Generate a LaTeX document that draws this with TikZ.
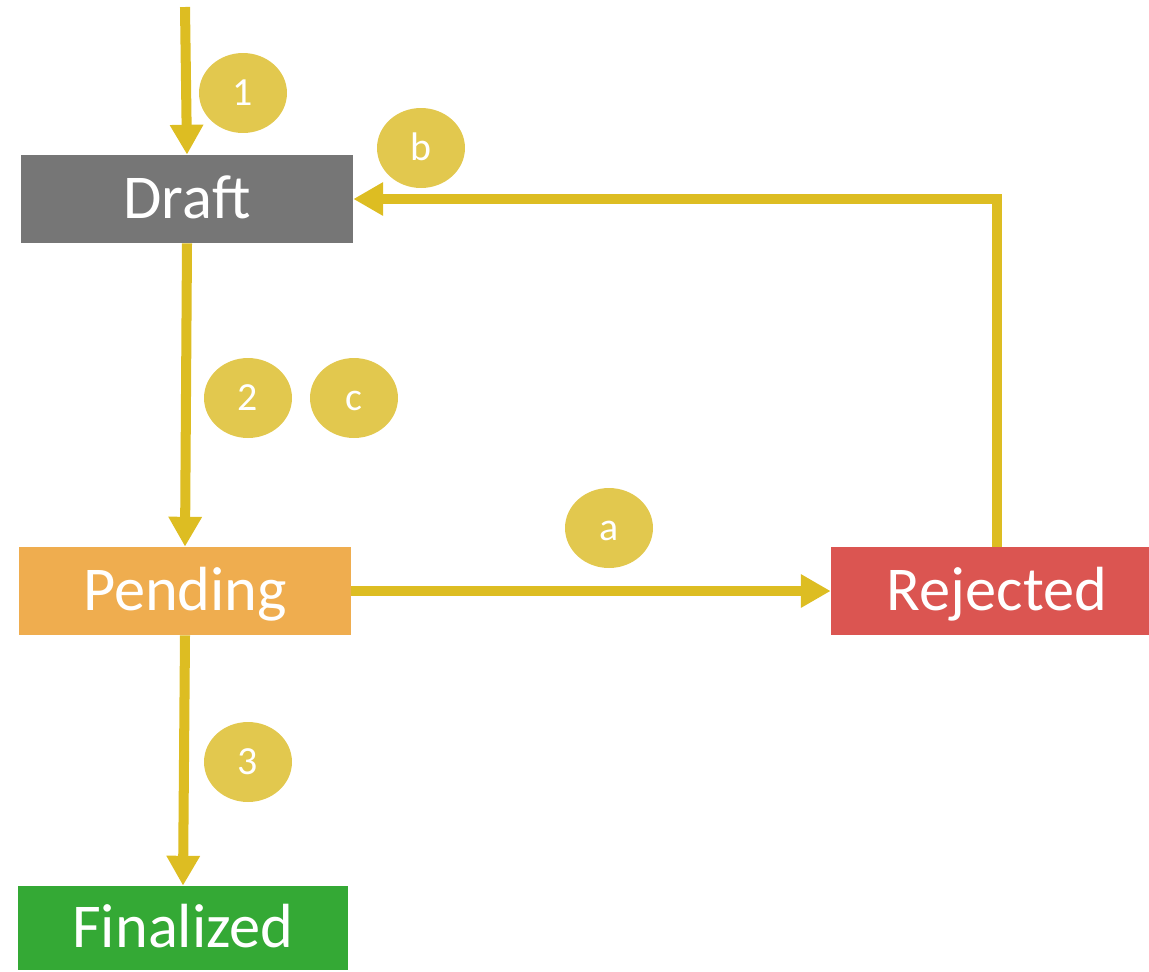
\documentclass[tikz,border=0pt]{standalone}
\usepackage{fontspec}
\setmainfont{Carlito}
\usetikzlibrary{arrows.meta,shapes.geometric}
\definecolor{flowline}{RGB}{221,189,34}
\definecolor{tagfill}{RGB}{226,200,78}
\definecolor{draftgray}{RGB}{118,118,118}
\definecolor{pendingorange}{RGB}{239,173,79}
\definecolor{rejectedred}{RGB}{219,85,81}
\definecolor{finalgreen}{RGB}{52,169,53}
\tikzset{
  state/.style={minimum width=6.64cm, minimum height=1.76cm, inner sep=0pt,
    text=white, font=\fontsize{35.5}{41}\selectfont, text height=22.6pt, text depth=0pt},
  tag/.style={ellipse, fill=tagfill, minimum width=1.76cm, minimum height=1.6cm, inner sep=0pt,
    text=white, font=\fontsize{22.7}{27}\selectfont, text height=14.4pt, text depth=0pt},
  flow/.style={draw=flowline, line width=5.7pt, -{Triangle[width=18pt,length=17pt]}}
}
\begin{document}
\begin{tikzpicture}[x=0.02cm, y=-0.02cm]
\useasboundingbox (0,0) rectangle (1149,971);
\node[state, fill=draftgray] (draft) at (187,199) {Draft};
\node[state, fill=pendingorange] (pending) at (185,591) {Pending};
\node[state, fill=rejectedred] (rejected) at (997,591) {Rejected};
\node[state, fill=finalgreen, minimum width=6.6cm, minimum height=1.68cm] (finalized) at (183,928) {Finalized};
\coordinate (start) at (185,7);
\draw[flow] (start) -- (draft.north);
\draw[flow] (draft.south) -- (pending.north);
\draw[flow] (pending.south) -- (finalized.north);
\draw[flow] (pending.east) -- (rejected.west);
\draw[flow] (rejected.north) -- (rejected.north |- draft.east) -- (draft.east);
\node[tag] (t1) at (243,93) {1};
\node[tag] (tb) at (421,148) {b};
\node[tag] (t2) at (248,398) {2};
\node[tag] (tc) at (354,398) {c};
\node[tag] (ta) at (609,528) {a};
\node[tag] (t3) at (248,762) {3};
\end{tikzpicture}
\end{document}
